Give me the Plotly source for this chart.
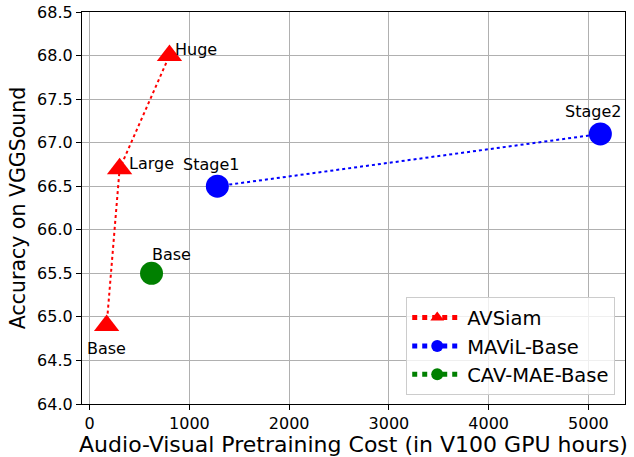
import plotly.graph_objects as go

avsiam_x = [170, 300, 800]
avsiam_y = [64.9, 66.7, 68.0]
avsiam_labels = ["Base", "Large", "Huge"]

mavil_x = [1280, 5120]
mavil_y = [66.5, 67.1]
mavil_labels = ["Stage1", "Stage2"]

cav_x = [620]
cav_y = [65.5]
cav_labels = ["Base"]

x_ticks = [0, 1000, 2000, 3000, 4000, 5000]
y_ticks = [64.0, 64.5, 65.0, 65.5, 66.0, 66.5, 67.0, 67.5, 68.0, 68.5]

FONT = "DejaVu Sans"

fig = go.Figure()
fig.add_trace(go.Scatter(x=avsiam_x, y=avsiam_y, mode="lines+markers", name="AVSiam",
                         line=dict(color="red", dash="dot", width=2),
                         marker=dict(symbol="triangle-up", size=22, color="red")))
fig.add_trace(go.Scatter(x=mavil_x, y=mavil_y, mode="lines+markers", name="MAViL-Base",
                         line=dict(color="blue", dash="dot", width=2),
                         marker=dict(symbol="circle", size=23, color="blue")))
fig.add_trace(go.Scatter(x=cav_x, y=cav_y, mode="lines+markers", name="CAV-MAE-Base",
                         line=dict(color="green", dash="dot", width=2),
                         marker=dict(symbol="circle", size=23, color="green")))

# label offsets (pixels): xshift, yshift, anchor
offsets_avsiam = [(0, -23, "center"), (7, 5, "left"), (4, 6, "left")]
offsets_mavil = [(-6, 22, "center"), (-7, 22, "center")]
offsets_cav = [(20, 19, "center")]

def add_labels(xs, ys, labels, offs):
    for x, y, t, (dx, dy, anc) in zip(xs, ys, labels, offs):
        fig.add_annotation(x=x, y=y, text=t, showarrow=False, xshift=dx, yshift=dy,
                           xanchor=anc, yanchor="middle",
                           font=dict(family=FONT, size=16, color="black"))

add_labels(avsiam_x, avsiam_y, avsiam_labels, offsets_avsiam)
add_labels(mavil_x, mavil_y, mavil_labels, offsets_mavil)
add_labels(cav_x, cav_y, cav_labels, offsets_cav)

axis_common = dict(showline=True, linecolor="black", linewidth=1.2, mirror=True,
                   ticks="outside", ticklen=5, tickcolor="black", automargin=False,
                   ticklabeloverflow="allow",
                   showgrid=True, gridcolor="#b0b0b0", gridwidth=1, zeroline=False,
                   tickfont=dict(family=FONT, size=16, color="black"))

fig.update_xaxes(range=[-77, 5367], tickvals=x_ticks,
                 ticktext=[str(v) for v in x_ticks],
                 title=dict(text="Audio-Visual Pretraining Cost (in V100 GPU hours)",
                            font=dict(family=FONT, size=22, color="black"), standoff=1),
                 **axis_common)
fig.update_yaxes(range=[64.0, 68.50001], tickvals=y_ticks,
                 ticktext=[f"{v:.1f}" for v in y_ticks],
                 title=dict(text="Accuracy on VGGSound",
                            font=dict(family=FONT, size=20.5, color="black"), standoff=5),
                 **axis_common)

fig.update_layout(width=634, height=457,
                  margin=dict(l=82, r=9, t=12, b=53, autoexpand=False),
                  plot_bgcolor="white", paper_bgcolor="white",
                  showlegend=True,
                  legend=dict(x=0.982, y=0.022, xanchor="right", yanchor="bottom",
                              bgcolor="rgba(255,255,255,0.8)", bordercolor="#cccccc",
                              borderwidth=1, itemsizing="constant", itemwidth=50,
                              font=dict(family=FONT, size=19.5, color="black"),
                              tracegroupgap=0))

# remove the page's default 8px body margin so the figure sits at the window origin
fig.write_html("out.html", config={"displayModeBar": False},
               post_script="document.body.style.margin='0px';")
